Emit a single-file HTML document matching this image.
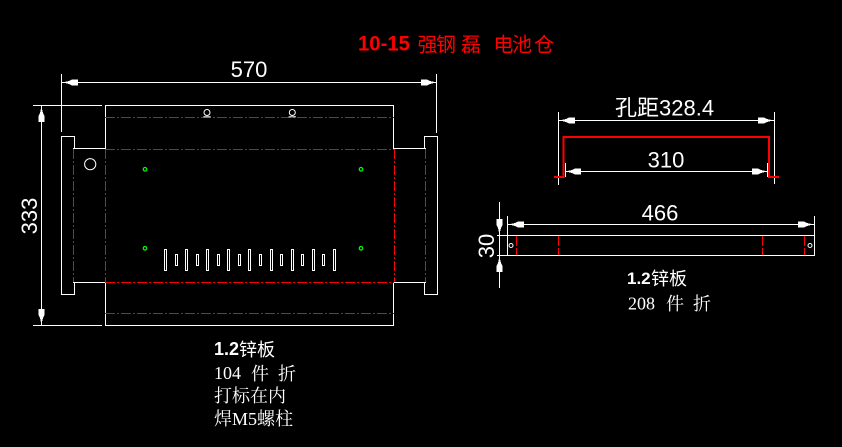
<!DOCTYPE html>
<html><head><meta charset="utf-8"><style>
html,body{margin:0;padding:0;background:#000;width:842px;height:447px;overflow:hidden}
svg{display:block}
.w{stroke:#fff;stroke-width:1;fill:none}
.r{stroke:#f00;stroke-width:1;fill:none;stroke-dasharray:10 2 2 2}
.t{fill:#fff;font-family:"Liberation Sans","Noto Sans CJK SC",sans-serif}
.s{fill:#fff;font-family:"Liberation Serif","Noto Serif CJK SC",serif}
</style></head><body>
<svg width="842" height="447" viewBox="0 0 842 447" xmlns="http://www.w3.org/2000/svg" shape-rendering="crispEdges">
<defs>
<polygon id="ah" points="0,0 6,-1.2 8,-2 10,-3 16,-3 16,3 10,3 8,2 6,1.2" fill="#fff"/>
</defs>
<!-- Title -->
<text x="358" y="50.5" fill="#f00" font-family="Liberation Sans,sans-serif" font-weight="bold" font-size="21" textLength="52" lengthAdjust="spacingAndGlyphs">10-15</text>
<g fill="#f00" font-family="'Liberation Sans','Noto Sans CJK SC',sans-serif" font-size="20">
<text x="417.5" y="51.5">强</text><text x="436" y="51.5">钢</text>
<text x="461" y="51.5">磊</text>
<text x="493.5" y="51.5">电</text><text x="512" y="51.5">池</text><text x="534" y="51.5">仓</text>
</g>

<!-- LEFT DRAWING -->
<!-- 570 dimension -->
<line class="w" x1="61.5" y1="74" x2="61.5" y2="132"/>
<line class="w" x1="436.5" y1="74" x2="436.5" y2="133"/>
<line class="w" x1="62" y1="82.5" x2="437" y2="82.5"/>
<use href="#ah" transform="translate(62,82.5)"/>
<use href="#ah" transform="translate(437,82.5) rotate(180)"/>
<text class="t" x="249" y="77" font-size="22" text-anchor="middle">570</text>

<!-- 333 dimension -->
<line class="w" x1="33" y1="105.5" x2="102" y2="105.5"/>
<line class="w" x1="33" y1="325.5" x2="102" y2="325.5"/>
<line class="w" x1="41.5" y1="105" x2="41.5" y2="326"/>
<use href="#ah" transform="translate(41.5,106) rotate(90)"/>
<use href="#ah" transform="translate(41.5,325) rotate(-90)"/>
<text class="t" font-size="22" text-anchor="middle" transform="translate(37,216) rotate(-90)">333</text>

<!-- body -->
<line class="w" x1="105" y1="105.5" x2="394" y2="105.5"/>
<line class="w" x1="105" y1="325.5" x2="394" y2="325.5"/>
<line class="w" x1="105.5" y1="105" x2="105.5" y2="149"/>
<line class="w" x1="105.5" y1="282" x2="105.5" y2="326"/>
<line class="w" x1="393.5" y1="105" x2="393.5" y2="149"/>
<line class="w" x1="393.5" y1="282" x2="393.5" y2="326"/>
<line class="r" x1="105" y1="117.5" x2="394" y2="117.5"/>
<line class="r" x1="105" y1="149.5" x2="394" y2="149.5"/>
<line class="r" x1="105" y1="282.5" x2="394" y2="282.5"/>
<line class="r" x1="105" y1="313.5" x2="394" y2="313.5"/>
<line class="r" x1="105.5" y1="149" x2="105.5" y2="282"/>
<line class="r" x1="394.5" y1="149" x2="394.5" y2="282"/>
<line class="r" x1="73.5" y1="149" x2="73.5" y2="282"/>
<line class="r" x1="425.5" y1="149" x2="425.5" y2="282"/>
<!-- side flaps -->
<line class="w" x1="73" y1="148.5" x2="105" y2="148.5"/>
<line class="w" x1="73" y1="282.5" x2="105" y2="282.5"/>
<line class="w" x1="394" y1="148.5" x2="426" y2="148.5"/>
<line class="w" x1="394" y1="282.5" x2="426" y2="282.5"/>
<polyline class="w" points="74.5,148.5 74.5,136.5 61.5,136.5 61.5,294.5 74.5,294.5 74.5,282.5"/>
<polyline class="w" points="424.5,148.5 424.5,136.5 437.5,136.5 437.5,294.5 424.5,294.5 424.5,282.5"/>
<!-- hole -->
<circle cx="90.2" cy="164.2" r="5.6" stroke="#fff" stroke-width="1" fill="none" shape-rendering="auto"/>
<!-- green markers -->
<g stroke="#0f0" stroke-width="1.2" fill="none" shape-rendering="auto">
<circle cx="145" cy="169.3" r="1.8"/><circle cx="361" cy="169.3" r="1.8"/>
<circle cx="145" cy="248.3" r="1.8"/><circle cx="361" cy="248.3" r="1.8"/>
</g>
<!-- keyholes -->
<g stroke="#fff" stroke-width="1" fill="none" shape-rendering="auto">
<circle cx="207" cy="112.5" r="3"/><line x1="203.3" y1="116.8" x2="210.7" y2="116.8"/>
<circle cx="292.3" cy="112.5" r="3"/><line x1="288.6" y1="116.8" x2="296" y2="116.8"/>
</g>
<!-- slots -->
<g class="w">
<rect x="164.5" y="249.5" width="2" height="21"/>
<rect x="185.5" y="249.5" width="2" height="21"/>
<rect x="206.5" y="249.5" width="2" height="21"/>
<rect x="227.5" y="249.5" width="2" height="21"/>
<rect x="248.5" y="249.5" width="2" height="21"/>
<rect x="270.5" y="249.5" width="2" height="21"/>
<rect x="291.5" y="249.5" width="2" height="21"/>
<rect x="312.5" y="249.5" width="2" height="21"/>
<rect x="333.5" y="249.5" width="2" height="21"/>
<rect x="175.5" y="254.5" width="2" height="11"/>
<rect x="196.5" y="254.5" width="2" height="11"/>
<rect x="217.5" y="254.5" width="2" height="11"/>
<rect x="238.5" y="254.5" width="2" height="11"/>
<rect x="259.5" y="254.5" width="2" height="11"/>
<rect x="280.5" y="254.5" width="2" height="11"/>
<rect x="301.5" y="254.5" width="2" height="11"/>
<rect x="322.5" y="254.5" width="2" height="11"/>
</g>

<!-- left notes -->
<text class="t" x="214" y="355" font-size="18"><tspan font-weight="bold">1.2</tspan></text>
<text class="t" x="239" y="356" font-size="18">锌板</text>
<text class="s" x="214" y="379" font-size="18">104</text>
<text class="s" x="251" y="380" font-size="18">件</text>
<text class="s" x="278" y="380" font-size="18">折</text>
<text class="s" x="214" y="402" font-size="18">打标在内</text>
<text class="s" x="214" y="425" font-size="18">焊<tspan font-family="Liberation Serif,serif">M5</tspan>螺柱</text>

<!-- RIGHT DRAWING -->
<!-- 孔距 dimension -->
<line class="w" x1="558.5" y1="112" x2="558.5" y2="185"/>
<line class="w" x1="774.5" y1="112" x2="774.5" y2="184"/>
<line class="w" x1="559" y1="120.5" x2="774" y2="120.5"/>
<use href="#ah" transform="translate(559,120.5)"/>
<use href="#ah" transform="translate(774,120.5) rotate(180)"/>
<text class="t" x="615" y="115.5" font-size="22">孔距328.4</text>
<!-- red U -->
<path d="M554,177 H563.5 V137 H769 V177 H779" stroke="#f00" stroke-width="2" fill="none"/>
<!-- 310 -->
<line class="w" x1="565.5" y1="163" x2="565.5" y2="177"/>
<line class="w" x1="767.5" y1="163" x2="767.5" y2="177"/>
<line class="w" x1="565" y1="171.5" x2="768" y2="171.5"/>
<use href="#ah" transform="translate(565,171.5)"/>
<use href="#ah" transform="translate(768,171.5) rotate(180)"/>
<text class="t" x="666" y="167.5" font-size="22" text-anchor="middle">310</text>

<!-- 466 -->
<line class="w" x1="507.5" y1="216" x2="507.5" y2="235"/>
<line class="w" x1="814.5" y1="216" x2="814.5" y2="235"/>
<line class="w" x1="508" y1="224.5" x2="814" y2="224.5"/>
<use href="#ah" transform="translate(508,224.5)"/>
<use href="#ah" transform="translate(814,224.5) rotate(180)"/>
<text class="t" x="660" y="220.5" font-size="22" text-anchor="middle">466</text>
<!-- strip -->
<rect class="w" x="507.5" y="235.5" width="307" height="20"/>
<g stroke="#f00" stroke-width="1.3" fill="none" stroke-dasharray="10 2">
<line x1="516.5" y1="236" x2="516.5" y2="255"/>
<line x1="558.5" y1="236" x2="558.5" y2="255"/>
<line x1="762.5" y1="236" x2="762.5" y2="255"/>
<line x1="804.5" y1="236" x2="804.5" y2="255"/>
</g>
<g stroke="#fff" stroke-width="1" fill="none" shape-rendering="auto">
<circle cx="511" cy="245.5" r="2"/><circle cx="810" cy="245.5" r="2"/>
</g>
<!-- 30 -->
<line class="w" x1="497" y1="235.5" x2="507" y2="235.5"/>
<line class="w" x1="497" y1="255.5" x2="507" y2="255.5"/>
<line class="w" x1="499.5" y1="202" x2="499.5" y2="288"/>
<use href="#ah" transform="translate(499.5,235) rotate(-90)"/>
<use href="#ah" transform="translate(499.5,256) rotate(90)"/>
<text class="t" font-size="22" text-anchor="middle" transform="translate(494,246) rotate(-90)">30</text>

<!-- right notes -->
<text class="t" x="627" y="284" font-size="17"><tspan font-weight="bold">1.2</tspan></text>
<text class="t" x="651" y="285" font-size="18">锌板</text>
<text class="s" x="628" y="309.5" font-size="18">208</text>
<text class="s" x="666" y="310" font-size="18">件</text>
<text class="s" x="693" y="310" font-size="18">折</text>
</svg>
</body></html>
